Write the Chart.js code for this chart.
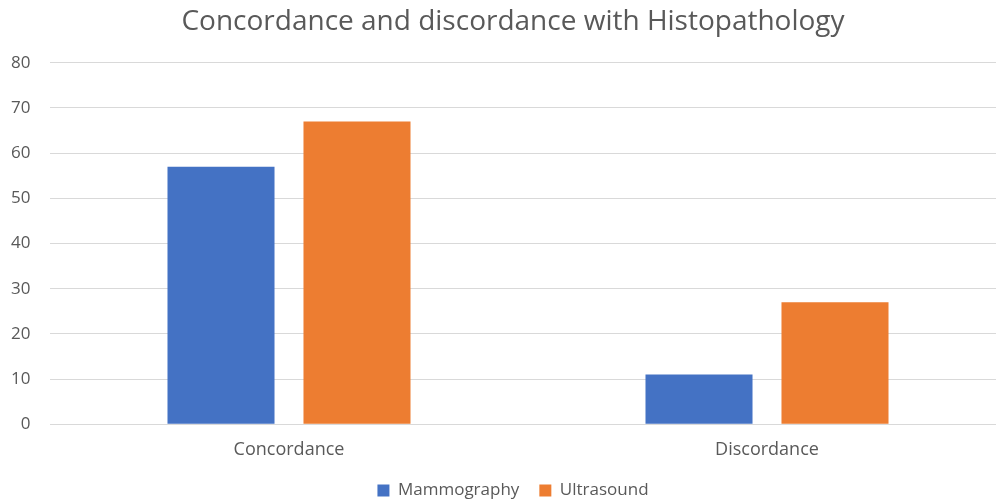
<!DOCTYPE html>
<html>
<head>
<meta charset="utf-8">
<script src="https://cdn.jsdelivr.net/npm/chart.js@4.4.0/dist/chart.umd.min.js"></script>
<style>
  html, body { margin: 0; padding: 0; background: #fff; overflow: hidden; }
  #wrap { width: 996px; height: 501px; overflow: hidden; position: relative; }
  #chart { display: block; }
</style>
</head>
<body>
<div id="wrap"><canvas id="chart" width="1008" height="509"></canvas></div>
<script>
// chart data
const categories = ['Concordance', 'Discordance'];
const mammography = [57, 11];
const ultrasound = [67, 27];
const seriesNames = ['Mammography', 'Ultrasound'];
const yTicks = [0, 10, 20, 30, 40, 50, 60, 70, 80];

const textColor = '#595959';
const fontFamily = '"Open Sans", "Liberation Sans", sans-serif';

const ctx = document.getElementById('chart').getContext('2d');

new Chart(ctx, {
    type: 'bar',
    data: {
        labels: categories,
        datasets: [
            {
                label: seriesNames[0],
                data: mammography,
                backgroundColor: '#4472C4',
                categoryPercentage: 0.569,
                barPercentage: 0.787,
            },
            {
                label: seriesNames[1],
                data: ultrasound,
                backgroundColor: '#ED7D31',
                categoryPercentage: 0.569,
                barPercentage: 0.787,
            },
        ],
    },
    options: {
        responsive: false,
        animation: false,
        // left padding keeps the title centred like the original
        layout: { padding: { left: 20, right: 2, top: 0, bottom: 0 } },
        scales: {
            x: {
                grid: { display: false, drawTicks: false },
                border: { display: false },
                ticks: { color: textColor, font: { family: fontFamily, size: 18 }, padding: 15 },
                afterFit: (scale) => { scale.height = 37.7; },
            },
            y: {
                min: yTicks[0],
                max: yTicks[yTicks.length - 1],
                grid: { color: '#d9d9d9', lineWidth: 1, drawTicks: false },
                border: { display: false },
                // mirror avoids clipping of labels to the narrow axis box
                ticks: {
                    stepSize: 10,
                    color: textColor,
                    font: { family: fontFamily, size: 17 },
                    mirror: true,
                    crossAlign: 'far',
                    padding: -39,
                },
                afterFit: (scale) => { scale.width = 30; },
            },
        },
        plugins: {
            title: {
                display: true,
                text: 'Concordance and discordance with Histopathology',
                color: textColor,
                font: { family: fontFamily, size: 28, weight: 'normal' },
                padding: { top: 5.5, bottom: 23.6 },
            },
            legend: {
                display: true,
                position: 'bottom',
                labels: {
                    color: textColor,
                    font: { family: fontFamily, size: 17 },
                    boxWidth: 12,
                    boxHeight: 12,
                    padding: 20,
                },
            },
            tooltip: { enabled: false },
        },
    },
});
</script>
</body>
</html>
